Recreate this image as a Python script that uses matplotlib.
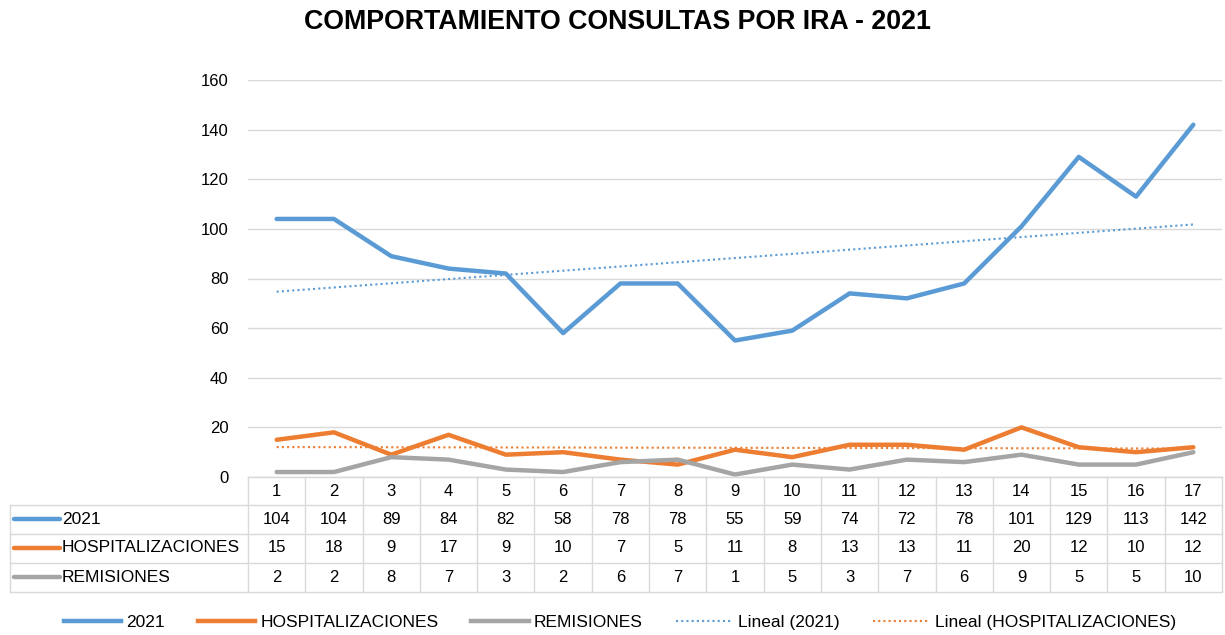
import numpy as np
import matplotlib
matplotlib.use('Agg')
import matplotlib.pyplot as plt
from matplotlib.lines import Line2D
from matplotlib.transforms import blended_transform_factory

plt.rcParams['font.family'] = ['Liberation Sans Narrow', 'Liberation Sans', 'DejaVu Sans']

semanas = list(range(1, 18))
consultas = [104, 104, 89, 84, 82, 58, 78, 78, 55, 59, 74, 72, 78, 101, 129, 113, 142]
hospital = [15, 18, 9, 17, 9, 10, 7, 5, 11, 8, 13, 13, 11, 20, 12, 10, 12]
remisiones = [2, 2, 8, 7, 3, 2, 6, 7, 1, 5, 3, 7, 6, 9, 5, 5, 10]
nombres = ['2021', 'HOSPITALIZACIONES', 'REMISIONES']

azul = '#5B9BD5'
naranja = '#ED7D31'
gris = '#A5A5A5'
colores = [azul, naranja, gris]

W, H = 1225, 635
fig = plt.figure(figsize=(W / 100, H / 100), dpi=100)
left, right, bottom, top = 248, 1222, 477, 80
ax = fig.add_axes([left / W, 1 - bottom / H, (right - left) / W, (bottom - top) / H])

x = np.array(semanas)
series = [consultas, hospital, remisiones]
for vals, c in zip(series, colores):
    ax.plot(x, vals, color=c, lw=3.2, solid_joinstyle='round', solid_capstyle='round', zorder=3)

# lineas de tendencia
for vals, c in zip([consultas, hospital], [azul, naranja]):
    m, b = np.polyfit(x, vals, 1)
    ax.plot(x, m * x + b, color=c, lw=1.5, ls=(0, (1, 1.5)), zorder=2)

ax.set_xlim(0.5, 17.5)
ax.set_ylim(0, 160)
ax.set_yticks(range(0, 161, 20))
ax.grid(axis='y', color='#D9D9D9', lw=1)
ax.set_axisbelow(True)
ax.set_xticks([])
for s in ['top', 'right', 'left']:
    ax.spines[s].set_visible(False)
ax.spines['bottom'].set_color('#D9D9D9')
ax.tick_params(axis='y', length=0, labelsize=12, pad=14)

fig.text(617 / W, 1 - 22 / H, 'COMPORTAMIENTO CONSULTAS POR IRA - 2021',
         ha='center', va='center', fontsize=19.3, fontweight='bold',
         family=['Liberation Sans', 'DejaVu Sans'])

# tabla de datos
tr = blended_transform_factory(ax.transData, fig.transFigure)
fy = lambda py: 1 - py / H
lc = '#D9D9D9'
row_y = [491, 519, 548, 577]
row_edges = [477, 505, 534, 563, 592]
for i in semanas:
    fig.text(i, fy(row_y[0]), str(i), transform=tr, ha='center', va='center', fontsize=12)
    for r, vals in enumerate(series):
        fig.text(i, fy(row_y[r + 1]), str(vals[i - 1]), transform=tr,
                 ha='center', va='center', fontsize=12)
for i in range(len(semanas) + 1):
    xe = 0.5 + i
    fig.add_artist(Line2D([xe, xe], [fy(477), fy(592)], transform=tr, color=lc, lw=1))
fig.add_artist(Line2D([10 / W, 10 / W], [fy(505), fy(592)], color=lc, lw=1))
for k, ye in enumerate(row_edges):
    x0 = 10 / W if k > 0 else left / W
    fig.add_artist(Line2D([x0, right / W], [fy(ye), fy(ye)], color=lc, lw=1))
for r, (n, c) in enumerate(zip(nombres, colores)):
    yy = fy(row_y[r + 1])
    fig.add_artist(Line2D([14 / W, 60 / W], [yy, yy], color=c, lw=3.2, solid_capstyle='round'))
    fig.text(62 / W, yy, n, ha='left', va='center', fontsize=12.5)

handles = [Line2D([], [], color=azul, lw=3.2),
           Line2D([], [], color=naranja, lw=3.2),
           Line2D([], [], color=gris, lw=3.2),
           Line2D([], [], color=azul, lw=1.5, ls=(0, (1, 1.5))),
           Line2D([], [], color=naranja, lw=1.5, ls=(0, (1, 1.5)))]
labels = nombres + ['Lineal (2021)', 'Lineal (HOSPITALIZACIONES)']
fig.legend(handles, labels, loc='center', bbox_to_anchor=(620 / W, fy(622)), ncol=5,
           frameon=False, fontsize=12.5, handlelength=3.3, columnspacing=1.9, handletextpad=0.3)

fig.savefig('out.png', dpi=100)
